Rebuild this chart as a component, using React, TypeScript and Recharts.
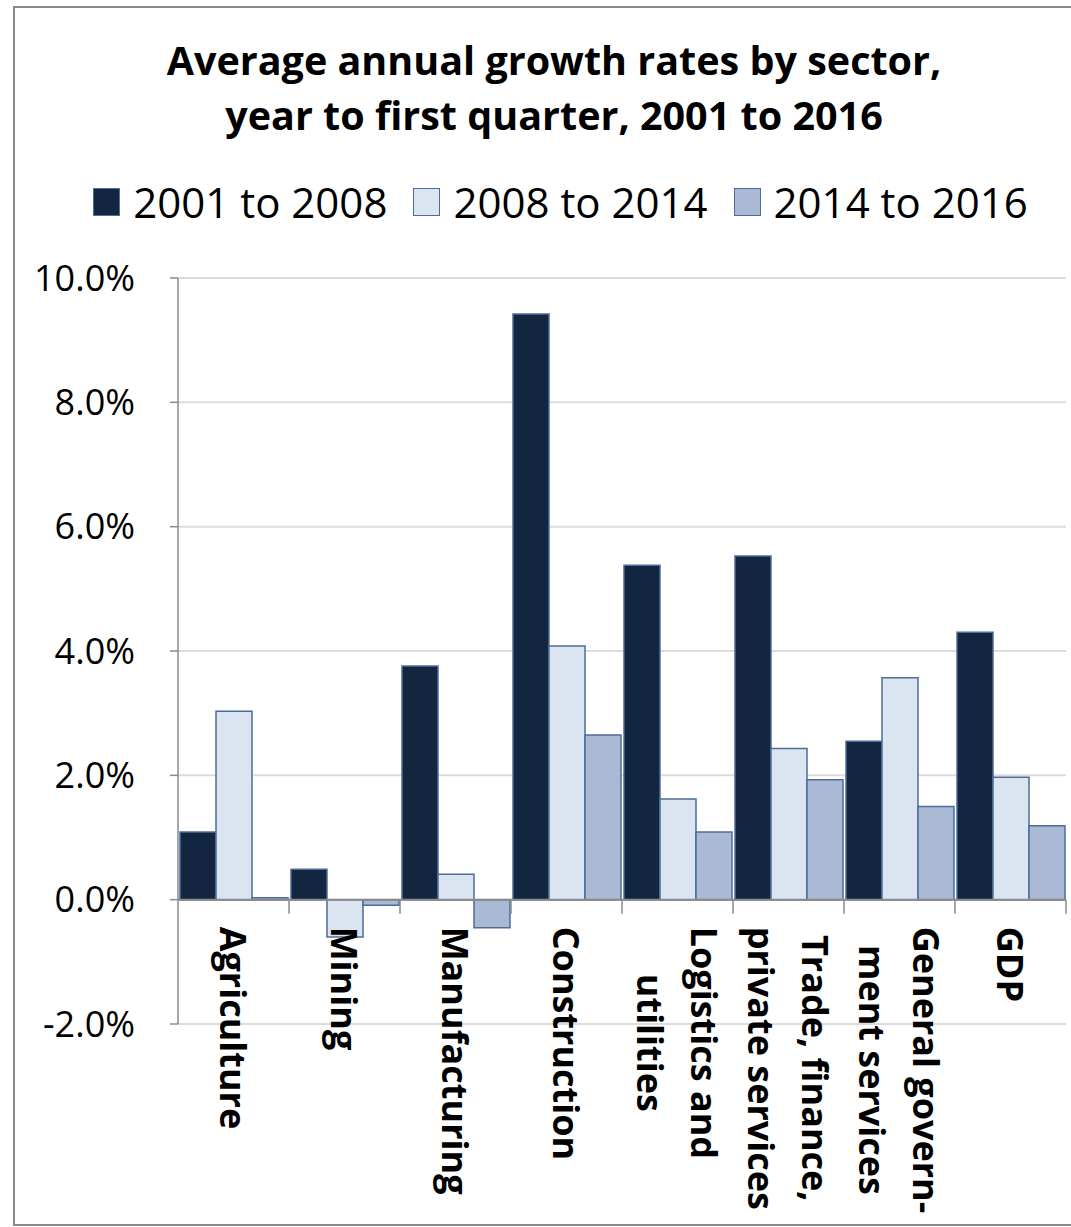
import { BarChart, Bar, XAxis, YAxis, CartesianGrid, ReferenceLine } from "recharts";

const titleLines = [
  "Average annual growth rates by sector,",
  "year to first quarter, 2001 to 2016",
];

// "\n" marks where Excel wrapped the category label
const sectors = [
  "Agriculture",
  "Mining",
  "Manufacturing",
  "Construction",
  "Logistics and\nutilities",
  "Trade, finance,\nprivate services",
  "General govern-\nment services",
  "GDP",
];

const growth2001to2008 = [1.09, 0.49, 3.76, 9.42, 5.38, 5.53, 2.55, 4.3];
const growth2008to2014 = [3.03, -0.6, 0.41, 4.08, 1.62, 2.43, 3.57, 1.97];
const growth2014to2016 = [0.03, -0.09, -0.45, 2.65, 1.09, 1.93, 1.5, 1.19];

const yTicks = [-2, 0, 2, 4, 6, 8, 10];

const series = [
  { key: "a", name: "2001 to 2008", values: growth2001to2008, fill: "#12263f" },
  { key: "b", name: "2008 to 2014", values: growth2008to2014, fill: "#dbe5f1" },
  { key: "c", name: "2014 to 2016", values: growth2014to2016, fill: "#aab9d6" },
];

const data = sectors.map((sector, i) => {
  const row: Record<string, string | number> = { sector };
  series.forEach((s) => (row[s.key] = s.values[i]));
  return row;
});

const W = 1071;
const H = 1227;
const X_AXIS_H = 1;
const MARGIN = { top: 278, right: 5, bottom: 203 - X_AXIS_H, left: 18 };
const Y_AXIS_W = 160;
const PLOT_W = W - MARGIN.left - Y_AXIS_W - MARGIN.right;
const PLOT_H = H - MARGIN.top - MARGIN.bottom - X_AXIS_H;
const Y_MIN = yTicks[0];
const Y_MAX = yTicks[yTicks.length - 1];

const FONT = '"Open Sans", "DejaVu Sans", sans-serif';
const EDGE = "#4d6c98";
const AXIS = "#8a8a8a";

const LABEL_FONT = `bold 36px "Open Sans"`;
let measureCtx: CanvasRenderingContext2D | null = null;
const textWidth = (s: string) => {
  if (!measureCtx) measureCtx = document.createElement("canvas").getContext("2d");
  if (!measureCtx) return s.length * 20;
  measureCtx.font = LABEL_FONT;
  return measureCtx.measureText(s).width;
};

const SectorTick = (props: any) => {
  const { x, y, payload } = props;
  const lines = String(payload.value).split("\n");
  // axis sits at the bottom of the plot; the labels hang from the 0% line
  const zeroY = y - (PLOT_H * (0 - Y_MIN)) / (Y_MAX - Y_MIN);
  const band = PLOT_W / sectors.length;
  const top = zeroY + 27;
  const longest = Math.max(...lines.map(textWidth));
  const lineGap = 54;
  return (
    <g>
      <line x1={x + band / 2} x2={x + band / 2} y1={zeroY} y2={zeroY + 14} stroke={AXIS} strokeWidth={1.5} />
      <g transform={`translate(${x}, ${top}) rotate(90)`}>
        {lines.map((line, i) => (
          <text
            key={i}
            x={longest / 2}
            y={(i - (lines.length - 1) / 2) * lineGap}
            textAnchor="middle"
            dominantBaseline="central"
            fontFamily={FONT}
            fontWeight={700}
            fontSize={36}
            fill="#000"
          >
            {line}
          </text>
        ))}
      </g>
    </g>
  );
};

export default function App() {
  return (
    <div
      style={{
        position: "absolute",
        left: 0,
        top: 0,
        width: W,
        height: H,
        overflow: "hidden",
        background: "#fff",
        fontFamily: FONT,
      }}
    >
      <div
        style={{
          position: "absolute",
          left: 13,
          top: 6,
          width: 1110,
          height: 1220,
          borderTop: `2px solid ${AXIS}`,
          borderLeft: `2px solid ${AXIS}`,
          borderBottom: `2px solid ${AXIS}`,
          boxSizing: "border-box",
        }}
      />
      <div
        style={{
          position: "absolute",
          left: 0,
          top: 33,
          width: 1108,
          textAlign: "center",
          fontWeight: 700,
          fontSize: 39.5,
          lineHeight: "55px",
          color: "#000",
        }}
      >
        {titleLines.map((t) => (
          <div key={t}>{t}</div>
        ))}
      </div>
      <div
        style={{
          position: "absolute",
          left: 25,
          top: 172,
          width: 1071,
          display: "flex",
          justifyContent: "center",
          alignItems: "center",
          gap: 26,
          fontSize: 42,
          lineHeight: "60px",
          color: "#000",
        }}
      >
        {series.map((s) => (
          <div key={s.key} style={{ display: "flex", alignItems: "center", gap: 13 }}>
            <span
              style={{
                display: "inline-block",
                width: 27,
                height: 28,
                background: s.fill,
                border: `1.5px solid ${EDGE}`,
                boxSizing: "border-box",
              }}
            />
            <span>{s.name}</span>
          </div>
        ))}
      </div>
      <div style={{ position: "absolute", left: 0, top: 0 }}>
        <BarChart width={W} height={H} data={data} margin={MARGIN} barCategoryGap={2} barGap={0}>
          <CartesianGrid vertical={false} stroke="#dcdcdc" strokeWidth={2} />
          <XAxis
            dataKey="sector"
            height={X_AXIS_H}
            interval={0}
            axisLine={false}
            tickLine={false}
            tickSize={0}
            tickMargin={0}
            tick={<SectorTick />}
          />
          <YAxis
            width={Y_AXIS_W}
            domain={[Y_MIN, Y_MAX]}
            ticks={yTicks}
            interval={0}
            tickFormatter={(v: number) => `${v.toFixed(1)}%`}
            tick={{ fontFamily: FONT, fontSize: 36, fill: "#000" }}
            axisLine={{ stroke: AXIS, strokeWidth: 1.5 }}
            tickLine={{ stroke: AXIS, strokeWidth: 1.5 }}
            tickSize={8}
            tickMargin={35}
          />
          <ReferenceLine y={0} stroke={AXIS} strokeWidth={2} />
          {series.map((s) => (
            <Bar
              key={s.key}
              dataKey={s.key}
              name={s.name}
              fill={s.fill}
              stroke={EDGE}
              strokeWidth={1.5}
              isAnimationActive={false}
            />
          ))}
        </BarChart>
      </div>
    </div>
  );
}
